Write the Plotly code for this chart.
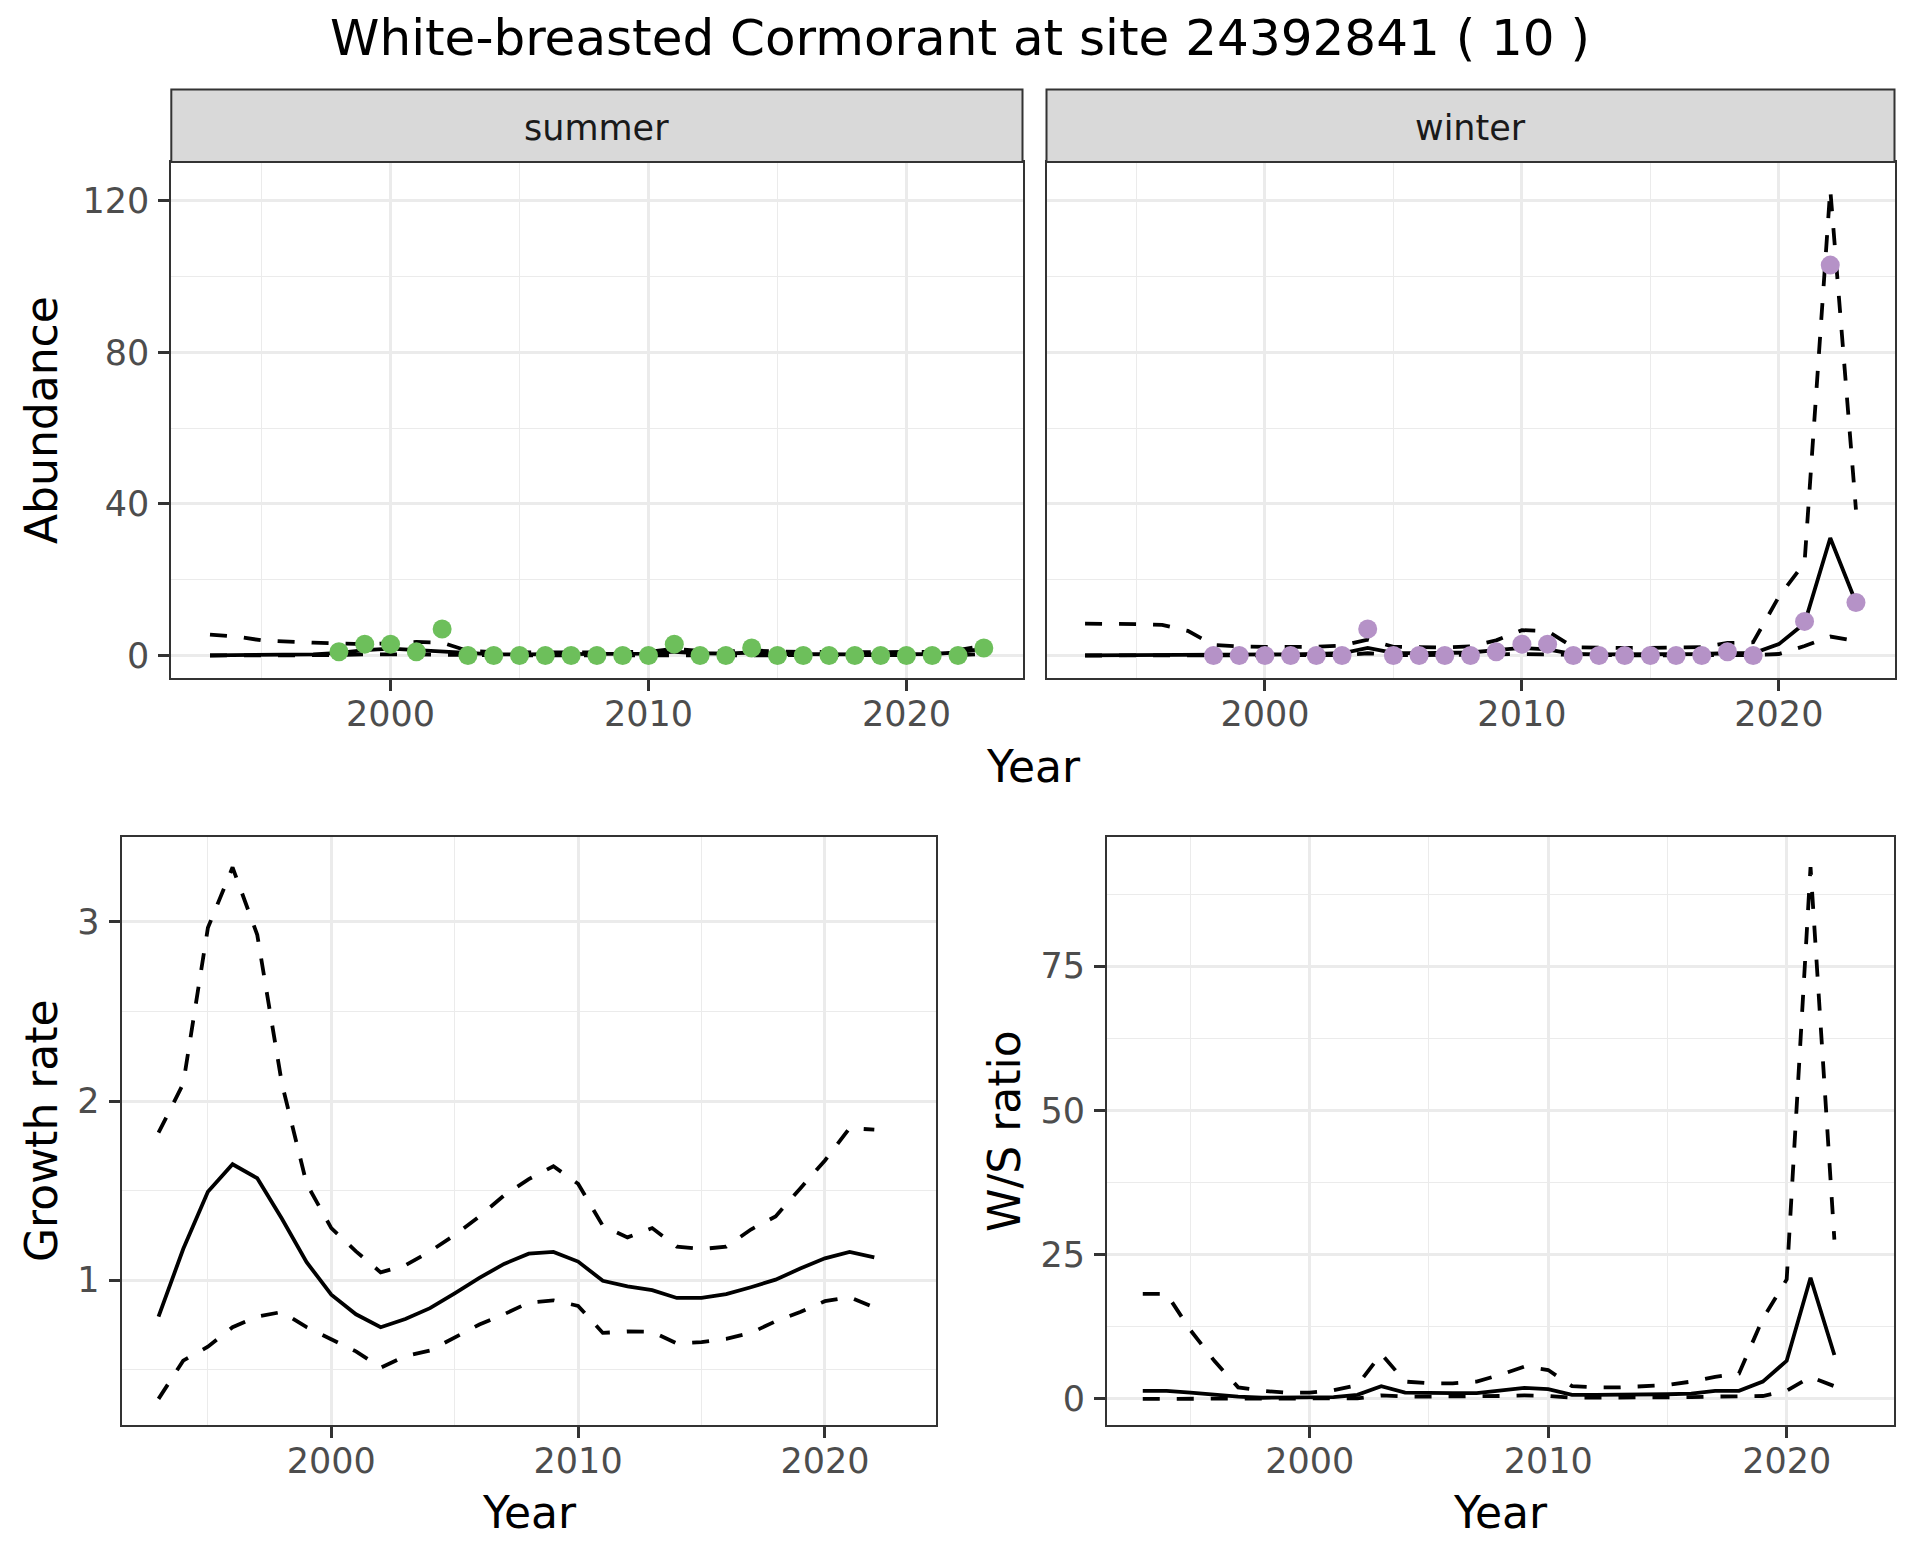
import plotly.graph_objects as go

# ---------------- data ----------------
years_top = list(range(1993, 2024))
years_obs = list(range(1998, 2024))

summer_obs = [1, 3, 3, 1, 7, 0, 0, 0, 0, 0, 0, 0, 0, 3, 0, 0, 2, 0, 0, 0, 0, 0, 0, 0, 0, 2]
winter_obs = [0, 0, 0, 0, 0, 0, 7, 0, 0, 0, 0, 1, 3, 3, 0, 0, 0, 0, 0, 0, 1, 0, None, 9, 103, 14]

summer_fit = [0.05, 0.05, 0.1, 0.15, 0.3, 0.7, 1.4, 1.8, 1.4, 1.1, 0.5, 0.3, 0.3, 0.3, 0.3, 0.3,
              0.3, 0.5, 1.0, 0.6, 0.5, 0.8, 0.4, 0.3, 0.3, 0.3, 0.3, 0.3, 0.4, 0.8, 1.8]
summer_upper = [5.5, 5.0, 4.0, 3.6, 3.4, 3.2, 3.0, 3.2, 3.6, 3.4, 1.2, 0.9, 0.8, 0.8, 0.8, 0.8,
                0.8, 1.0, 1.8, 1.2, 1.0, 1.4, 1.0, 0.9, 0.9, 0.9, 0.9, 0.9, 1.0, 1.4, 2.6]
summer_lower = [0.0, 0.0, 0.0, 0.0, 0.05, 0.1, 0.3, 0.4, 0.3, 0.2, 0.1, 0.05, 0.05, 0.05, 0.05, 0.05,
                0.05, 0.1, 0.2, 0.1, 0.1, 0.1, 0.05, 0.05, 0.05, 0.05, 0.05, 0.05, 0.05, 0.1, 0.4]

winter_fit = [0.05, 0.05, 0.05, 0.1, 0.15, 0.3, 0.3, 0.3, 0.3, 0.4, 0.6, 2.0, 0.7, 0.6, 0.6, 0.8,
              1.4, 2.0, 1.6, 0.4, 0.3, 0.3, 0.3, 0.3, 0.4, 0.6, 0.6, 3.0, 8.5, 31.0, 14.0]
winter_upper = [8.4, 8.4, 8.3, 8.1, 6.5, 2.8, 2.4, 2.3, 2.3, 2.3, 2.6, 4.2, 2.3, 2.1, 2.1, 2.4,
                4.0, 6.7, 6.4, 2.2, 2.0, 2.0, 2.0, 2.0, 2.2, 3.3, 3.5, 15.5, 24.5, 123.0, 38.5]
winter_lower = [0.0, 0.0, 0.0, 0.0, 0.0, 0.0, 0.0, 0.0, 0.0, 0.05, 0.1, 0.6, 0.1, 0.1, 0.1, 0.1,
                0.3, 0.4, 0.3, 0.05, 0.05, 0.05, 0.05, 0.05, 0.05, 0.1, 0.1, 0.4, 2.5, 5.0, 3.8]

years_bottom = list(range(1993, 2023))
growth_fit = [0.797, 1.174, 1.494, 1.647, 1.569, 1.343, 1.101, 0.919, 0.810, 0.738, 0.784, 0.844,
              0.927, 1.013, 1.091, 1.148, 1.158, 1.104, 0.997, 0.966, 0.945, 0.901, 0.901, 0.922,
              0.961, 1.003, 1.065, 1.122, 1.158, 1.127]
growth_upper = [1.823, 2.096, 2.966, 3.304, 2.927, 2.096, 1.538, 1.291, 1.161, 1.044, 1.083, 1.161,
                1.252, 1.356, 1.473, 1.564, 1.636, 1.538, 1.304, 1.239, 1.291, 1.187, 1.174, 1.187,
                1.283, 1.356, 1.512, 1.668, 1.849, 1.840]
growth_lower = [0.338, 0.551, 0.629, 0.738, 0.797, 0.823, 0.738, 0.668, 0.603, 0.512, 0.577, 0.608,
                0.681, 0.753, 0.810, 0.875, 0.888, 0.857, 0.706, 0.714, 0.712, 0.647, 0.655, 0.673,
                0.706, 0.771, 0.823, 0.883, 0.906, 0.849]

ws_fit = [1.4, 1.4, 1.1, 0.7, 0.4, 0.2, 0.2, 0.25, 0.3, 0.7, 2.2, 1.1, 1.0, 1.0, 1.0, 1.4, 1.9, 1.7,
          0.7, 0.7, 0.7, 0.7, 0.8, 0.9, 1.4, 1.4, 3.0, 6.6, 21.0, 7.6]
ws_upper = [18.2, 18.2, 11.9, 6.6, 2.0, 1.4, 1.1, 1.1, 1.5, 2.4, 7.8, 3.0, 2.7, 2.7, 3.0, 4.2, 5.6,
            5.0, 2.2, 2.0, 2.0, 2.2, 2.4, 3.0, 3.8, 4.4, 13.9, 20.7, 92.2, 27.6]
ws_lower = [0.0, 0.0, 0.0, 0.0, 0.0, 0.0, 0.0, 0.0, 0.0, 0.1, 0.6, 0.4, 0.4, 0.4, 0.4, 0.5, 0.6,
            0.5, 0.2, 0.2, 0.2, 0.2, 0.2, 0.3, 0.4, 0.4, 0.5, 1.4, 3.8, 2.2]

x_ticks = [2000, 2010, 2020]
x_minor = [1995, 2005, 2015]
abund_ticks = [0, 40, 80, 120]
abund_minor = [20, 60, 100]
growth_ticks = [1, 2, 3]
growth_minor = [0.5, 1.5, 2.5]
ws_ticks = [0, 25, 50, 75]
ws_minor = [12.5, 37.5, 62.5, 87.5]

summer_color = "#6DBF5B"
winter_color = "#B592C7"

# ---------------- layout helpers ----------------
# page body has an 8px margin; target coordinates are page pixels
OFF = 8
W, H = 1920 - 2 * OFF, 1560 - 2 * OFF
FONT = "DejaVu Sans"


def px_x(p):
    return (p - OFF) / W


def px_y(p):
    return 1 - (p - OFF) / H


def axis_common(domain, rng, tickvals, minorvals, is_x, show_labels=True, show_ticks=True):
    return dict(
        domain=domain, range=rng, tickmode="array", tickvals=tickvals,
        ticktext=[str(v) for v in tickvals],
        showticklabels=show_labels,
        ticks="outside" if show_ticks else "", ticklen=11, tickwidth=2.5, tickcolor="#333333",
        ticklabelstandoff=-7 if is_x else 2,
        showline=True, mirror=True, linecolor="#333333", linewidth=2,
        showgrid=True, gridcolor="#EBEBEB", gridwidth=2.6,
        minor=dict(tickmode="array", tickvals=minorvals, showgrid=True,
                   gridcolor="#EBEBEB", gridwidth=1.3, ticks=""),
        zeroline=False,
        tickfont=dict(family=FONT, size=35, color="#4D4D4D"),
        layer="below traces",
    )


fig = go.Figure()

DASH = "17px,17px"
LW = 3.8


def add_band(xs, fit, up, lo, xa, ya):
    fig.add_trace(go.Scatter(x=xs, y=up, mode="lines", xaxis=xa, yaxis=ya,
                             line=dict(color="black", width=LW, dash=DASH), hoverinfo="skip"))
    fig.add_trace(go.Scatter(x=xs, y=lo, mode="lines", xaxis=xa, yaxis=ya,
                             line=dict(color="black", width=LW, dash=DASH), hoverinfo="skip"))
    fig.add_trace(go.Scatter(x=xs, y=fit, mode="lines", xaxis=xa, yaxis=ya,
                             line=dict(color="black", width=LW), hoverinfo="skip"))


add_band(years_top, summer_fit, summer_upper, summer_lower, "x", "y")
fig.add_trace(go.Scatter(x=years_obs, y=summer_obs, mode="markers", xaxis="x", yaxis="y",
                         marker=dict(color=summer_color, size=19, line=dict(width=0))))
add_band(years_top, winter_fit, winter_upper, winter_lower, "x2", "y2")
fig.add_trace(go.Scatter(x=years_obs, y=winter_obs, mode="markers", xaxis="x2", yaxis="y2",
                         marker=dict(color=winter_color, size=19, line=dict(width=0))))
add_band(years_bottom, growth_fit, growth_upper, growth_lower, "x3", "y3")
add_band(years_bottom, ws_fit, ws_upper, ws_lower, "x4", "y4")

# panel pixel boxes (page pixels)
top_y = [162, 677.5]
bot_y = [837, 1424.5]
summer_x = [171.3, 1022.5]
winter_x = [1046.5, 1894.5]
growth_x = [121.5, 936]
ws_x = [1107, 1894]
strip_y = [89.5, 162]

xr = [1991.5, 2024.5]

fig.update_layout(
    width=W, height=H,
    margin=dict(l=0, r=0, t=0, b=0),
    paper_bgcolor="white", plot_bgcolor="white",
    showlegend=False,
    xaxis=dict(axis_common([px_x(summer_x[0]), px_x(summer_x[1])], xr, x_ticks, x_minor, True), anchor="y"),
    yaxis=dict(axis_common([px_y(top_y[1]), px_y(top_y[0])], [-5.8, 130.2], abund_ticks, abund_minor, False),
               anchor="x"),
    xaxis2=dict(axis_common([px_x(winter_x[0]), px_x(winter_x[1])], xr, x_ticks, x_minor, True), anchor="y2"),
    yaxis2=dict(axis_common([px_y(top_y[1]), px_y(top_y[0])], [-5.8, 130.2], abund_ticks, abund_minor, False,
                            show_labels=False, show_ticks=False), anchor="x2"),
    xaxis3=dict(axis_common([px_x(growth_x[0]), px_x(growth_x[1])], xr, x_ticks, x_minor, True), anchor="y3"),
    yaxis3=dict(axis_common([px_y(bot_y[1]), px_y(bot_y[0])], [0.195, 3.473], growth_ticks, growth_minor, False),
                anchor="x3"),
    xaxis4=dict(axis_common([px_x(ws_x[0]), px_x(ws_x[1])], xr, x_ticks, x_minor, True), anchor="y4"),
    yaxis4=dict(axis_common([px_y(bot_y[1]), px_y(bot_y[0])], [-4.44, 97.4], ws_ticks, ws_minor, False),
                anchor="x4"),
)

# facet strips
for xs, label in [(summer_x, "summer"), (winter_x, "winter")]:
    fig.add_shape(type="rect", xref="paper", yref="paper",
                  x0=px_x(xs[0]), x1=px_x(xs[1]), y0=px_y(strip_y[1]), y1=px_y(strip_y[0]),
                  fillcolor="#D9D9D9", line=dict(color="#333333", width=2), layer="above")
    fig.add_annotation(xref="paper", yref="paper", x=px_x((xs[0] + xs[1]) / 2),
                       y=px_y(128), text=label, showarrow=False,
                       font=dict(family=FONT, size=35, color="#1A1A1A"),
                       xanchor="center", yanchor="middle")

annos = [
    ("White-breasted Cormorant at site 24392841 ( 10 )", 960, 38.5, 0, 50),
    ("Abundance", 41, 420, -90, 44),
    ("Year", 1033, 766, 0, 44),
    ("Growth rate", 41, 1131, -90, 44),
    ("Year", 529, 1512, 0, 44),
    ("W/S ratio", 1004, 1131, -90, 44),
    ("Year", 1500, 1512, 0, 44),
]
for text, x, y, ang, size in annos:
    fig.add_annotation(xref="paper", yref="paper", x=px_x(x), y=px_y(y), text=text,
                       showarrow=False, textangle=ang,
                       font=dict(family=FONT, size=size, color="black"),
                       xanchor="center", yanchor="middle")

fig.write_html("out.html")
